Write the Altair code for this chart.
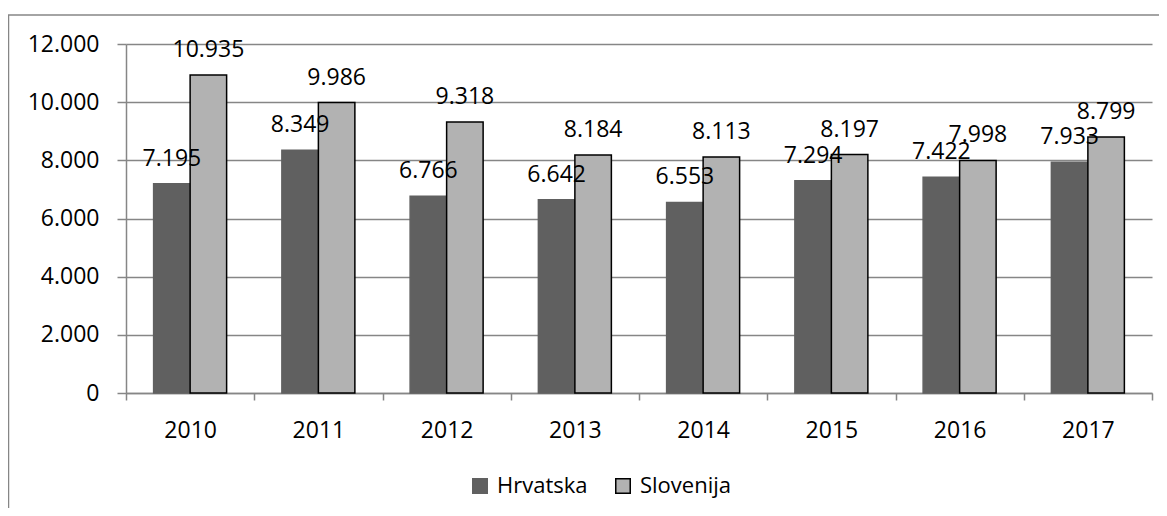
import altair as alt
import pandas as pd

years = ["2010", "2011", "2012", "2013", "2014", "2015", "2016", "2017"]
hrvatska = [7195, 8349, 6766, 6642, 6553, 7294, 7422, 7933]
slovenija = [10935, 9986, 9318, 8184, 8113, 8197, 7998, 8799]
series = ["Hrvatska", "Slovenija"]
y_ticks = [0, 2000, 4000, 6000, 8000, 10000, 12000]

rows = []
for i, yr in enumerate(years):
    rows.append({"year": yr, "series": series[0], "value": hrvatska[i]})
    rows.append({"year": yr, "series": series[1], "value": slovenija[i]})
df = pd.DataFrame(rows)

FONT = "Open Sans"
GRAY = "#868686"

x_enc = alt.X(
    "year:N",
    sort=years,
    scale=alt.Scale(paddingInner=0, paddingOuter=0),
    axis=alt.Axis(
        title=None, labelAngle=0, tickBand="extent", tickSize=7, tickColor=GRAY,
        tickWidth=1.5, domainColor=GRAY, domainWidth=1.5, grid=False,
        labelFontSize=23, labelFont=FONT, labelColor="black", labelPadding=19,
    ),
)
xoff = alt.XOffset("series:N", sort=series,
                   scale=alt.Scale(paddingInner=0, paddingOuter=0.757))
y_enc = alt.Y(
    "value:Q",
    scale=alt.Scale(domain=[0, 12000], nice=False),
    axis=alt.Axis(
        title=None, values=y_ticks, format=",d", tickSize=9, tickColor=GRAY,
        tickWidth=1.5, domainColor=GRAY, domainWidth=1.5, gridColor=GRAY,
        gridWidth=1.5, labelFontSize=23, labelFont=FONT, labelColor="black",
        labelPadding=18,
    ),
)

leg = dict(
    title=None, orient="none", legendX=343, legendY=431, direction="horizontal",
    symbolType="square", symbolSize=210, labelFontSize=22, labelFont=FONT,
    labelColor="black", columnPadding=24, labelOffset=6, padding=0,
    symbolStrokeWidth=1.5,
)
color = alt.Color(
    "series:N", sort=series,
    scale=alt.Scale(domain=series, range=["#606060", "#b2b2b2"]),
    legend=alt.Legend(**leg),
)
stroke = alt.Stroke(
    "series:N", sort=series,
    scale=alt.Scale(domain=series, range=["#606060", "#000000"]),
    legend=alt.Legend(**leg),
)

base = alt.Chart(df)

bars = base.mark_bar(strokeWidth=1.5).encode(
    x=x_enc, xOffset=xoff, y=y_enc, color=color, stroke=stroke
)

labels = base.mark_text(
    font=FONT, fontSize=23, color="black", baseline="alphabetic", dy=-18
).encode(
    x=alt.X("year:N", sort=years), xOffset=alt.XOffset("series:N", sort=series),
    y="value:Q", text=alt.Text("value:Q", format=",d"),
)

border = alt.Chart(alt.Data(values=[{"a": 1}])).mark_rect(
    fill=None, stroke=GRAY, strokeWidth=1.5
).encode(
    x=alt.value(-117.5), x2=alt.value(1100), y=alt.value(-29), y2=alt.value(520)
)

chart = alt.layer(border, bars, labels).properties(
    width=1026, height=349,
    padding={"left": 118, "top": 36, "right": 7, "bottom": 115},
    autosize=alt.AutoSizeParams(type="none"),
).configure(
    locale={"number": {"decimal": ",", "thousands": ".", "grouping": [3],
                       "currency": ["", " €"]}}
).configure_view(stroke=None)

chart.save("out.html", embed_options={"renderer": "svg", "actions": False})
